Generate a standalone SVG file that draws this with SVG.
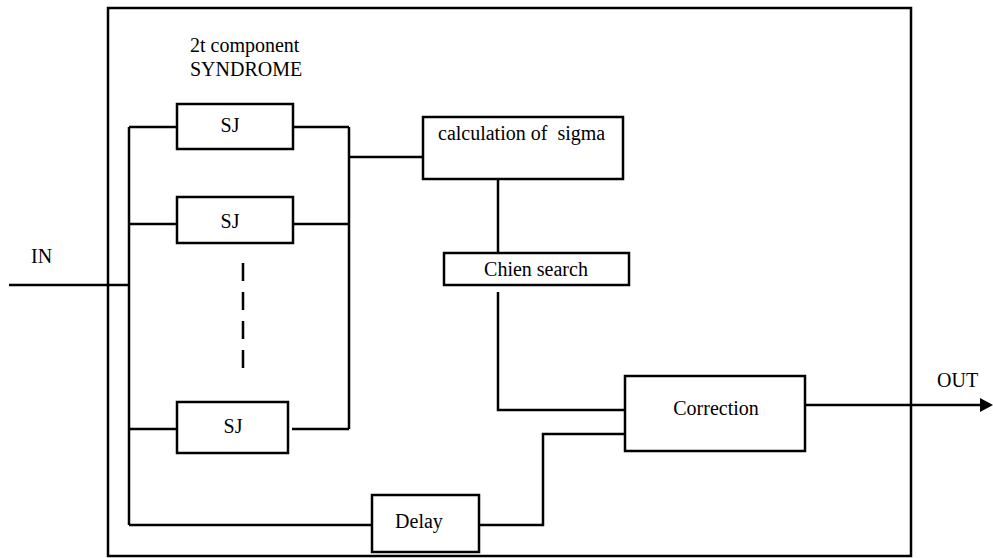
<svg xmlns="http://www.w3.org/2000/svg" width="993" height="558" viewBox="0 0 993 558">
<style>
.box{fill:#fff;stroke:#000;stroke-width:2.5}
.ln{fill:none;stroke:#000;stroke-width:2.5}
text{font-family:"Liberation Serif","Times New Roman",serif;font-size:20px;fill:#000;white-space:pre}
.c{text-anchor:middle}
</style>
<defs>
<marker id="arr" viewBox="0 0 10 10" refX="0" refY="5" markerWidth="13" markerHeight="14" markerUnits="userSpaceOnUse" orient="auto" preserveAspectRatio="none">
<path d="M0,0 L10,5 L0,10 z" fill="#000"/>
</marker>
</defs>
<rect id="outer" x="108" y="8" width="803" height="548" fill="none" stroke="#000" stroke-width="2.5"/>
<text id="title" x="190" y="52">2t component<tspan x="190" y="76">SYNDROME</tspan></text>
<text id="in-label" x="31" y="263">IN</text>
<text id="out-label" x="937" y="387">OUT</text>
<g id="connectors">
<path class="ln" d="M9,285 H129"/>
<path class="ln" d="M129,127 V525"/>
<path class="ln" d="M129,127 H177 M129,224 H177 M129,429 H177"/>
<path class="ln" d="M293,127 H349 M293,224 H349 M292,429 H349"/>
<path class="ln" d="M349,127 V429"/>
<path class="ln" d="M349,157 H423"/>
<path class="ln" d="M498,179 V253"/>
<path class="ln" d="M498,292 V410 H625"/>
<path class="ln" d="M129,525 H372"/>
<path class="ln" d="M479,525 H543 V434 H625"/>
<path class="ln" d="M805,405 H980" marker-end="url(#arr)"/>
<path class="ln" d="M243,263 V369" stroke-dasharray="18 11"/>
</g>
<g id="sj1"><rect class="box" x="177" y="104" width="116" height="45"/><text class="c" x="230" y="132">SJ</text></g>
<g id="sj2"><rect class="box" x="177" y="197" width="116" height="46"/><text class="c" x="230" y="228">SJ</text></g>
<g id="sj3"><rect class="box" x="177" y="402" width="111" height="51"/><text class="c" x="233" y="433">SJ</text></g>
<g id="sigma"><rect class="box" x="423" y="117" width="200" height="62"/><text x="438" y="140" xml:space="preserve">calculation of  sigma</text></g>
<g id="chien"><rect class="box" x="444" y="253" width="185" height="32"/><text class="c" x="536" y="276">Chien search</text></g>
<g id="correction"><rect class="box" x="625" y="376" width="180" height="75"/><text class="c" x="716" y="415">Correction</text></g>
<g id="delay"><rect class="box" x="372" y="495" width="107" height="57"/><text class="c" x="419" y="528">Delay</text></g>
</svg>
